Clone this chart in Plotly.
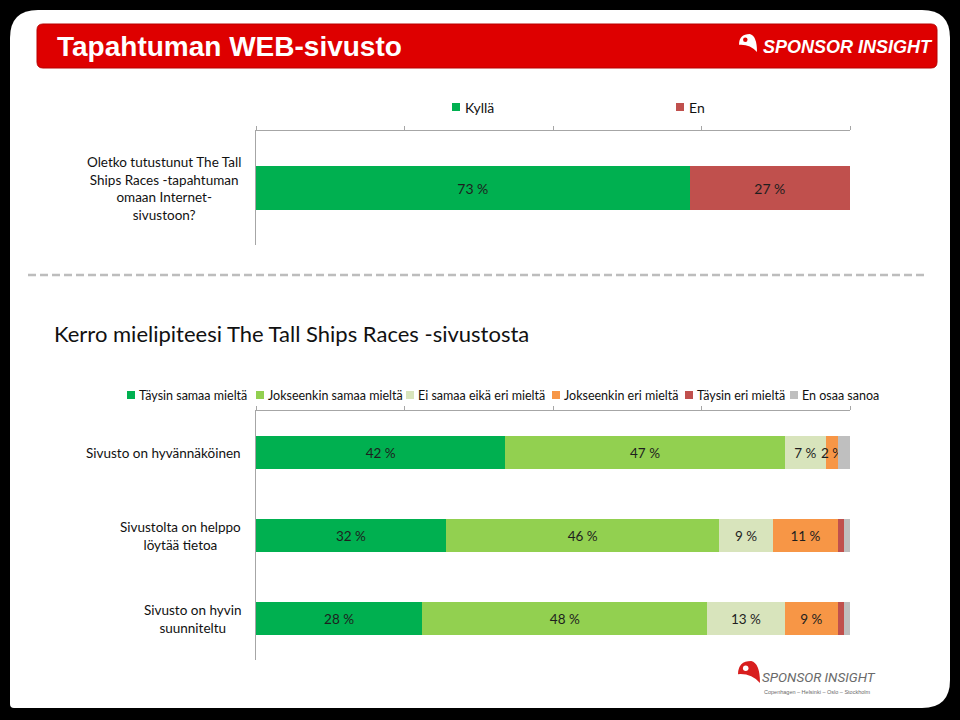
import plotly.graph_objects as go

# ---------------- data ----------------
top_question = ["Oletko tutustunut The Tall<br>Ships Races -tapahtuman<br>omaan Internet-<br>sivustoon?"]
top_series = ["Kyllä", "En"]
kylla = [73]
en = [27]

bottom_categories = [
    "Sivusto on hyvännäköinen",
    "Sivustolta on helppo<br>löytää tietoa",
    "Sivusto on hyvin<br>suunniteltu",
]
bottom_series = [
    "Täysin samaa mieltä",
    "Jokseenkin samaa mieltä",
    "Ei samaa eikä eri mieltä",
    "Jokseenkin eri mieltä",
    "Täysin eri mieltä",
    "En osaa sanoa",
]
taysin_samaa = [42, 32, 28]
jokseenkin_samaa = [47, 46, 48]
ei_samaa_eika_eri = [7, 9, 13]
jokseenkin_eri = [2, 11, 9]
taysin_eri = [0, 1, 1]
en_osaa = [2, 1, 1]
bottom_values = [taysin_samaa, jokseenkin_samaa, ei_samaa_eika_eri,
                 jokseenkin_eri, taysin_eri, en_osaa]
labelled = [True, True, True, True, False, False]

axis_ticks = [0, 25, 50, 75, 100]

# ---------------- styles ----------------
top_colors = ["#00B050", "#C0504D"]
bottom_colors = ["#00B050", "#92D050", "#D8E4BC", "#F79646", "#C0504D", "#BFBFBF"]
FONT = "Lato, Calibri, Carlito, sans-serif"
W, H = 960, 720


def px(x):
    return x / W


def py(y):
    return 1 - y / H


def lbl(v):
    return f"{v} %"


fig = go.Figure()

# top chart
for name, vals, col in zip(top_series, [kylla, en], top_colors):
    fig.add_trace(go.Bar(
        x=vals, y=[0] * len(vals), orientation="h", name=name,
        marker=dict(color=col, line=dict(width=0)),
        text=[lbl(v) for v in vals], textposition="inside", textangle=0,
        insidetextanchor="middle", constraintext="none",
        textfont=dict(family=FONT, size=14, color="#1e1e1e"),
        xaxis="x", yaxis="y", showlegend=False, hoverinfo="skip",
    ))

# bottom chart
for name, vals, col, show in zip(bottom_series, bottom_values, bottom_colors, labelled):
    fig.add_trace(go.Bar(
        x=vals, y=list(range(len(vals))), orientation="h", name=name,
        marker=dict(color=col, line=dict(width=0)),
        text=[lbl(v) if (show and v > 0) else "" for v in vals],
        textposition="inside", textangle=0, insidetextanchor="middle",
        constraintext="none",
        textfont=dict(family=FONT, size=13.5, color="#1e1e1e"),
        xaxis="x2", yaxis="y2", showlegend=False, hoverinfo="skip",
    ))

axis_common = dict(range=[0, 100], side="top", showline=True, linecolor="#a6a6a6",
                   linewidth=1, ticks="outside", ticklen=4, tickcolor="#a6a6a6",
                   tickvals=axis_ticks, showticklabels=False, showgrid=False,
                   zeroline=False, fixedrange=True)
yaxis_common = dict(showline=True, linecolor="#a6a6a6", linewidth=1, ticks="",
                    showticklabels=False, showgrid=False, zeroline=False,
                    fixedrange=True)

shapes = []
annotations = []

# black frame with white rounded card
x0, y0, x1, y1 = 10, 10, 950, 708
r = 28
card = (f"M {px(x0)},{py(y0 + r)} Q {px(x0)},{py(y0)} {px(x0 + r)},{py(y0)} "
        f"L {px(x1 - r)},{py(y0)} Q {px(x1)},{py(y0)} {px(x1)},{py(y0 + r)} "
        f"L {px(x1)},{py(y1 - r)} Q {px(x1)},{py(y1)} {px(x1 - r)},{py(y1)} "
        f"L {px(x0 + 4)},{py(y1)} Q {px(x0)},{py(y1)} {px(x0)},{py(y1 - 4)} Z")
shapes.append(dict(type="path", xref="paper", yref="paper", path=card,
                   fillcolor="white", line=dict(width=0), layer="below"))

# red header bar
hx0, hy0, hx1, hy1, hr = 37, 24, 937, 68, 6
hdr = (f"M {px(hx0)},{py(hy0 + hr)} Q {px(hx0)},{py(hy0)} {px(hx0 + hr)},{py(hy0)} "
       f"L {px(hx1 - hr)},{py(hy0)} Q {px(hx1)},{py(hy0)} {px(hx1)},{py(hy0 + hr)} "
       f"L {px(hx1)},{py(hy1 - hr)} Q {px(hx1)},{py(hy1)} {px(hx1 - hr)},{py(hy1)} "
       f"L {px(hx0 + hr)},{py(hy1)} Q {px(hx0)},{py(hy1)} {px(hx0)},{py(hy1 - hr)} Z")
shapes.append(dict(type="path", xref="paper", yref="paper", path=hdr,
                   fillcolor="#DE0000", line=dict(color="#B80000", width=1), layer="below"))
annotations.append(dict(x=px(55), y=py(47), xref="paper", yref="paper",
                        xanchor="left", yanchor="middle", showarrow=False,
                        text="<b>Tapahtuman WEB-sivusto</b>",
                        font=dict(family="Liberation Sans, Arial", size=28, color="white")))


def logo_icon(cx, cy, s, color, inner):
    # simple swoosh-like icon
    p = (f"M {px(cx - s)},{py(cy + s * 0.2)} "
         f"Q {px(cx - s)},{py(cy - s)} {px(cx + s * 0.2)},{py(cy - s)} "
         f"Q {px(cx + s)},{py(cy - s * 0.8)} {px(cx + s)},{py(cy + s)} "
         f"Q {px(cx + s * 0.2)},{py(cy + s * 0.1)} {px(cx - s)},{py(cy + s * 0.2)} Z")
    shapes.append(dict(type="path", xref="paper", yref="paper", path=p,
                       fillcolor=color, line=dict(width=0)))
    shapes.append(dict(type="circle", xref="paper", yref="paper",
                       x0=px(cx - s * 0.55), x1=px(cx - s * 0.05),
                       y0=py(cy - s * 0.1), y1=py(cy - s * 0.6),
                       fillcolor=inner, line=dict(width=0)))


logo_icon(748, 43, 9, "white", "#DE0000")
annotations.append(dict(x=px(761), y=py(47), xref="paper", yref="paper",
                        xanchor="left", yanchor="middle", showarrow=False,
                        text="<b><i>SPONSOR INSIGHT</i></b>",
                        font=dict(family="Liberation Sans", size=18, color="white")))

# bottom logo
logo_icon(749, 672, 11, "#D81E1E", "white")
annotations.append(dict(x=px(760), y=py(677), xref="paper", yref="paper",
                        xanchor="left", yanchor="middle", showarrow=False,
                        text="<i>SPONSOR INSIGHT</i>",
                        font=dict(family="Roboto, Liberation Sans", size=13.5,
                                  color="#6A6A6A")))
annotations.append(dict(x=px(762), y=py(692), xref="paper", yref="paper",
                        xanchor="left", yanchor="middle", showarrow=False,
                        text="Copenhagen – Helsinki – Oslo – Stockholm",
                        font=dict(family="Liberation Sans", size=5.5, color="#6A6A6A")))

# dashed separator
shapes.append(dict(type="line", xref="paper", yref="paper",
                   x0=px(28), x1=px(925), y0=py(275), y1=py(275),
                   line=dict(color="#BDBDBD", width=2.5, dash="8px,4px")))

# section title
annotations.append(dict(x=px(52), y=py(333), xref="paper", yref="paper",
                        xanchor="left", yanchor="middle", showarrow=False,
                        text="Kerro mielipiteesi The Tall Ships Races -sivustosta",
                        font=dict(family=FONT, size=22, color="#111111")))

# legends (drawn as squares + text)
top_legend_x = [452, 676]
for name, col, lx in zip(top_series, top_colors, top_legend_x):
    shapes.append(dict(type="rect", xref="paper", yref="paper",
                       x0=px(lx), x1=px(lx + 8), y0=py(103), y1=py(111),
                       fillcolor=col, line=dict(width=0)))
    annotations.append(dict(x=px(lx + 11), y=py(107), xref="paper", yref="paper",
                            xanchor="left", yanchor="middle", showarrow=False,
                            text=name, font=dict(family=FONT, size=14, color="#111111")))

bottom_legend_x = [127, 256, 406, 552, 685, 790]
for name, col, lx in zip(bottom_series, bottom_colors, bottom_legend_x):
    shapes.append(dict(type="rect", xref="paper", yref="paper",
                       x0=px(lx), x1=px(lx + 8), y0=py(391), y1=py(399),
                       fillcolor=col, line=dict(width=0)))
    annotations.append(dict(x=px(lx + 10), y=py(395), xref="paper", yref="paper",
                            xanchor="left", yanchor="middle", showarrow=False,
                            text=name, font=dict(family=FONT, size=12.5, color="#111111")))

# category labels
for i, q in enumerate(top_question):
    annotations.append(dict(x=px(243), y=i, xref="paper", yref="y",
                            xanchor="right", yanchor="middle", align="center",
                            showarrow=False, text=q,
                            font=dict(family=FONT, size=13.5, color="#111111")))
for i, c in enumerate(bottom_categories):
    annotations.append(dict(x=px(243), y=i, xref="paper", yref="y2",
                            xanchor="right", yanchor="middle", align="center",
                            showarrow=False, text=c,
                            font=dict(family=FONT, size=13.5, color="#111111")))

fig.update_layout(
    width=W, height=H,
    margin=dict(l=0, r=0, t=0, b=0),
    paper_bgcolor="black", plot_bgcolor="rgba(0,0,0,0)",
    barmode="stack", bargap=0.61,
    font=dict(family=FONT, color="#111111"),
    xaxis=dict(domain=[px(256), px(850)], anchor="y", **axis_common),
    yaxis=dict(domain=[py(245), py(131)], anchor="x", range=[-0.5, 0.5], **yaxis_common),
    xaxis2=dict(domain=[px(256), px(850)], anchor="y2", **axis_common),
    yaxis2=dict(domain=[py(660), py(411)], anchor="x2", range=[2.5, -0.5], **yaxis_common),
    shapes=shapes, annotations=annotations,
    showlegend=False,
)

fig.write_html(
    "out.html",
    config={"displayModeBar": False},
    post_script="document.body.style.margin='0';document.body.style.overflow='hidden';",
)
